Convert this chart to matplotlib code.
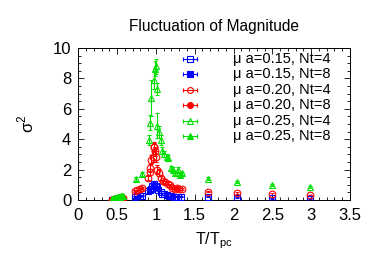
import matplotlib
matplotlib.use("Agg")
import matplotlib.pyplot as plt
from matplotlib.ticker import MultipleLocator, FuncFormatter

plt.rcParams['font.family'] = ['Liberation Sans', 'DejaVu Sans']

# ---- data ----
# Nt=4 (open markers)
x_nt4_015 = [0.73, 0.76, 0.79, 0.82, 0.90, 0.92, 0.94, 0.95, 0.97, 0.98, 1.00, 1.01, 1.03, 1.06,
             1.08, 1.11, 1.14, 1.17, 1.20, 1.23, 1.26, 1.29, 1.32, 1.67, 2.04, 2.49, 2.98]
y_nt4_015 = [0.20, 0.24, 0.24, 0.28, 0.57, 0.68, 0.72, 0.90, 1.07, 1.05, 0.94, 0.83, 0.68, 0.50,
             0.41, 0.39, 0.35, 0.24, 0.24, 0.20, 0.22, 0.22, 0.20, 0.20, 0.15, 0.11, 0.09]
e_nt4_015 = [0.04, 0.04, 0.04, 0.04, 0.08, 0.10, 0.10, 0.15, 0.18, 0.15, 0.12, 0.10, 0.08, 0.06,
             0.05, 0.05, 0.04, 0.03, 0.03, 0.03, 0.03, 0.03, 0.03, 0.03, 0.02, 0.02, 0.02]

x_nt4_020 = [0.73, 0.76, 0.79, 0.82, 0.90, 0.92, 0.93, 0.94, 0.96, 0.97, 0.98, 0.99, 1.00, 1.02,
             1.04, 1.07, 1.09, 1.12, 1.15, 1.18, 1.21, 1.24, 1.27, 1.30, 1.33, 1.67, 2.04, 2.49, 2.98]
y_nt4_020 = [0.57, 0.63, 0.74, 0.79, 1.44, 1.83, 2.10, 2.64, 2.86, 3.47, 3.50, 3.20, 2.86, 2.00,
             1.80, 1.45, 1.22, 1.16, 1.07, 0.98, 0.79, 0.74, 0.79, 0.72, 0.72, 0.55, 0.46, 0.40, 0.33]
e_nt4_020 = [0.06, 0.06, 0.07, 0.08, 0.15, 0.20, 0.25, 0.30, 0.35, 0.30, 0.30, 0.30, 0.35, 0.30,
             0.25, 0.15, 0.12, 0.10, 0.10, 0.08, 0.07, 0.07, 0.07, 0.06, 0.06, 0.05, 0.04, 0.04, 0.03]

x_nt4_025 = [0.74, 0.82, 0.91, 0.93, 0.94, 0.97, 0.99, 1.00, 1.01, 1.02, 1.04, 1.06, 1.08, 1.11,
             1.14, 1.16, 1.19, 1.22, 1.25, 1.28, 1.31, 1.33, 1.67, 2.04, 2.49, 2.98]
y_nt4_025 = [1.40, 1.72, 3.95, 5.10, 6.70, 7.90, 8.65, 8.80, 7.30, 4.90, 4.50, 3.95, 3.25, 3.00,
             2.85, 2.75, 2.10, 2.00, 1.77, 2.00, 1.65, 1.75, 1.40, 1.18, 0.98, 0.83]
e_nt4_025 = [0.12, 0.15, 0.30, 0.50, 1.20, 0.60, 0.50, 0.50, 0.40, 0.80, 0.40, 0.30, 0.25, 0.20,
             0.20, 0.20, 0.15, 0.15, 0.12, 0.15, 0.12, 0.12, 0.10, 0.08, 0.07, 0.06]

# Nt=8 (filled markers)
x_nt8 = [0.43, 0.44, 0.45, 0.46, 0.47, 0.48, 0.49, 0.50, 0.51, 0.52, 0.53, 0.54, 0.55, 0.56, 0.57]
y_nt8_015 = [0.00, 0.00, 0.01, 0.01, 0.01, 0.01, 0.02, 0.02, 0.02, 0.02, 0.02, 0.03, 0.03, 0.03, 0.03]
y_nt8_020 = [0.02, 0.03, 0.03, 0.04, 0.05, 0.05, 0.06, 0.07, 0.07, 0.08, 0.09, 0.09, 0.10, 0.11, 0.12]
y_nt8_025 = [0.05, 0.07, 0.08, 0.10, 0.11, 0.13, 0.14, 0.16, 0.17, 0.19, 0.20, 0.22, 0.23, 0.25, 0.27]

labels = ["μ a=0.15, Nt=4", "μ a=0.15, Nt=8", "μ a=0.20, Nt=4",
          "μ a=0.20, Nt=8", "μ a=0.25, Nt=4", "μ a=0.25, Nt=8"]

BLUE = "#0000ff"
RED = "#ff0000"
GREEN = "#00e000"

fig = plt.figure(figsize=(3.82, 2.67), dpi=100)
ax = fig.add_axes([0.205, 0.251, 0.711, 0.569])

ms = 4.8
def eb(x, y, e, color, marker, filled):
    ax.errorbar(x, y, yerr=e, fmt=marker, color=color, ecolor=color,
                mfc=color if filled else 'none', mec=color, ms=ms, mew=0.8,
                elinewidth=0.8, capsize=1.5, capthick=0.8, zorder=3)

eb(x_nt4_015, y_nt4_015, e_nt4_015, BLUE, 's', False)
eb(x_nt8, y_nt8_015, None, BLUE, 's', True)
eb(x_nt4_020, y_nt4_020, e_nt4_020, RED, 'o', False)
eb(x_nt8, y_nt8_020, None, RED, 'o', True)
eb(x_nt4_025, y_nt4_025, e_nt4_025, GREEN, '^', False)
eb(x_nt8, y_nt8_025, None, GREEN, '^', True)

ax.set_xlim(0, 3.5)
ax.set_ylim(0, 10)
ax.xaxis.set_major_locator(MultipleLocator(0.5))
ax.xaxis.set_minor_locator(MultipleLocator(0.1))
ax.yaxis.set_major_locator(MultipleLocator(2))
ax.yaxis.set_minor_locator(MultipleLocator(0.5))
ax.xaxis.set_major_formatter(FuncFormatter(lambda v, p: f"{v:g}"))
ax.tick_params(which='both', direction='in', top=True, right=True, labelsize=12, width=0.6)
ax.tick_params(axis='x', which='major', length=4, pad=6)
ax.tick_params(axis='y', which='major', length=4, pad=5)
ax.tick_params(which='minor', length=2)
for s in ax.spines.values():
    s.set_linewidth(0.7)

ax.set_title("Fluctuation of Magnitude", fontsize=11.2, pad=12)
ax.set_xlabel("T/T$_{\\mathregular{pc}}$", fontsize=11.5, labelpad=5)
ax.set_ylabel("σ$^{\\mathregular{2}}$", fontsize=12, labelpad=12)

# manual key (gnuplot style)
styles = [(BLUE, 's', False), (BLUE, 's', True), (RED, 'o', False),
          (RED, 'o', True), (GREEN, '^', False), (GREEN, '^', True)]
xc, hw = 0.411, 0.026
y0, dy = 0.928, 0.102
for i, (lab, (c, m, f)) in enumerate(zip(labels, styles)):
    yy = y0 - i * dy
    ax.plot([xc - hw, xc + hw], [yy, yy], color=c, lw=0.8, transform=ax.transAxes, zorder=4)
    ax.plot([xc - hw, xc + hw], [yy, yy], ls='none', marker='|', color=c, ms=3.5, mew=0.8,
            transform=ax.transAxes, zorder=4)
    ax.plot([xc], [yy], ls='none', marker=m, color=c, mfc=c if f else 'none', mec=c,
            ms=4.2, mew=0.8, transform=ax.transAxes, zorder=4)
    ax.text(0.569, yy, lab, transform=ax.transAxes, fontsize=10.5, va='center', ha='left')

fig.savefig("out.png", dpi=100)
